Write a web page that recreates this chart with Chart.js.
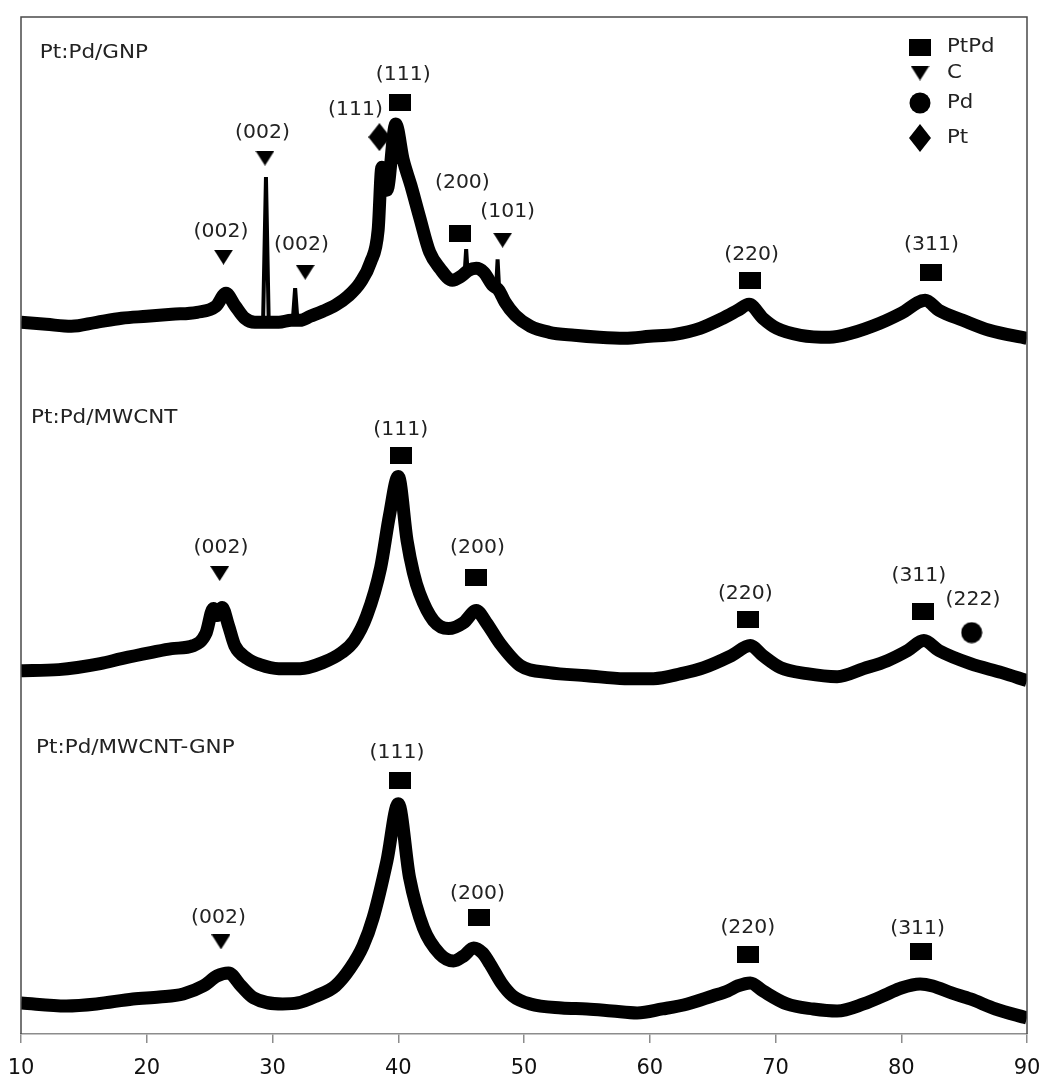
<!DOCTYPE html>
<html>
<head>
<meta charset="utf-8">
<script src="https://cdn.jsdelivr.net/npm/chart.js@4.4.1/dist/chart.umd.min.js"></script>
<style>
  html, body { margin: 0; background: #fff; }
</style>
</head>
<body>
<canvas id="xrd" width="1046" height="1079"></canvas>
<script>
// ---------- Diffraction data (2θ in degrees, stacked intensity in a.u.) ----------
const TICKS_2THETA = [10, 20, 30, 40, 50, 60, 70, 80, 90];

const gnpX = [10, 12, 14, 16, 18, 20, 22, 24, 25.5, 26.3, 27, 27.8, 28.6, 29.3, 29.7, 30.5, 31.5, 32.2, 33, 34, 35, 36, 37, 37.8, 38.4, 38.7, 39.1, 39.8, 40.4, 41, 41.7, 42.5, 43.3, 44.3, 45, 45.6, 46.2, 46.8, 47.5, 48, 48.5, 49.3, 50.5, 52, 54, 56, 58, 60, 62, 64, 65.8, 67, 67.9, 69, 70.1, 72, 74.3, 76, 78.3, 80, 81.9, 83, 84.9, 87, 90];
const gnpY = [711, 709, 707, 711, 715, 717, 719, 721, 727, 740, 728, 715, 711, 711, 711, 711, 713, 713, 717, 722, 728, 737, 751, 771, 803, 866, 843, 909, 873, 848, 816, 781, 765, 753, 757, 763, 765, 761, 748, 743, 731, 718, 707, 701, 698, 696, 695, 697, 699, 705, 715, 723, 729, 715, 705, 698, 696, 700, 710, 720, 733, 723, 713, 703, 695];

// narrow reflections on the GNP pattern (null separates each spike)
const gnpSpikeX = [29.25, 29.48, 29.7, null, 31.62, 31.8, 31.98, null, 45.28, 45.4, 45.52, null, 47.78, 47.9, 48.02];
const gnpSpikeY = [711, 856, 711, null, 714, 745, 714, null, 760, 784, 760, null, 745, 774, 745];

const mwcntX = [10, 13, 16.3, 18, 20.3, 22, 23.7, 24.7, 25.3, 25.6, 26, 26.5, 27, 28, 29, 30.5, 32.2, 34, 35.5, 36.5, 37.5, 38.6, 39.3, 40, 40.7, 41.2, 41.7, 42.8, 44, 45.2, 46.2, 47, 48.1, 49.7, 52, 55, 58, 60.3, 62.5, 64.3, 66.5, 68, 69, 70.4, 72.5, 74.9, 77, 78.9, 80.5, 81.8, 83, 85.5, 88, 90];
const mwcntY = [363, 364, 370, 375, 381, 385, 388, 400, 425, 418, 426, 408, 388, 375, 369, 365, 365, 371, 381, 393, 418, 466, 518, 557, 493, 461, 440, 413, 405, 411, 423, 411, 390, 368, 361, 358, 355, 355, 360, 366, 378, 388, 378, 366, 360, 357, 365, 373, 383, 393, 383, 370, 361, 353];

const hybridX = [10, 13.6, 16, 18.9, 21, 22.9, 24.5, 25.6, 26.5, 27.5, 28.5, 30.8, 32, 33.5, 35, 36.2, 37.2, 38, 39.1, 40, 40.9, 42, 43.3, 44.4, 45.2, 46, 46.7, 47.3, 48.2, 49.1, 50.5, 53, 55, 57, 59, 61, 63, 65, 66.2, 67, 68, 69, 70.9, 73, 74.9, 77, 78.9, 80, 81.5, 82.5, 84, 85.5, 87.5, 90];
const hybridY = [31, 28, 30, 35, 37, 40, 48, 58, 61, 48, 36, 30, 31, 38, 48, 66, 88, 116, 173, 230, 156, 106, 80, 73, 78, 86, 81, 70, 51, 38, 30, 26, 25, 23, 21, 25, 30, 38, 43, 48, 51, 43, 30, 25, 23, 30, 40, 46, 50, 48, 41, 35, 25, 16];

// ---------- Phase assignments: [2θ, marker height, hkl, label 2θ, label height] ----------
const ptpdPeaks = [
  [40.1, 931, '(111)', 40.4, 958], [44.9, 800, '(200)', 45.1, 850], [68.0, 753, '(220)', 68.1, 778], [82.4, 761, '(311)', 82.4, 788],
  [40.2, 578, '(111)', 40.2, 604], [46.2, 456, '(200)', 46.3, 486], [67.8, 414, '(220)', 67.6, 440], [81.7, 422, '(311)', 81.4, 458],
  [40.1, 253, '(111)', 39.9, 281], [46.4, 116, '(200)', 46.3, 140], [67.8, 79, '(220)', 67.8, 106], [81.6, 82, '(311)', 81.3, 105],
];
const carbonPeaks = [
  [26.1, 776, '(002)', 25.9, 801], [29.4, 875, '(002)', 29.2, 900], [32.6, 761, '(002)', 32.3, 788], [48.3, 793, '(101)', 48.7, 821],
  [25.8, 460, '(002)', 25.9, 486],
  [25.9, 92, '(002)', 25.7, 116],
];
const pdPeaks = [[85.6, 401, '(222)', 85.7, 434]];
const ptPeaks = [[38.5, 896, '(111)', 36.6, 923]];

const SAMPLES = ['Pt:Pd/GNP', 'Pt:Pd/MWCNT', 'Pt:Pd/MWCNT-GNP'];
const sampleLabelX = [11.5, 10.8, 11.2];
const sampleLabelY = [980, 615, 286];

const LEGEND = ['PtPd', 'C', 'Pd', 'Pt'];

// ---------- Marker glyphs ----------
function glyph(kind) {
  const c = document.createElement('canvas');
  const dims = { square: [22, 17], triangle: [19, 15], circle: [22, 22], diamond: [22, 28] }[kind];
  c.width = dims[0]; c.height = dims[1];
  const g = c.getContext('2d');
  const w = c.width, h = c.height;
  g.fillStyle = '#000';
  g.beginPath();
  if (kind === 'square') {
    g.rect(0, 0, w, h);
  } else if (kind === 'triangle') {
    g.moveTo(0, 0); g.lineTo(w, 0); g.lineTo(w / 2, h); g.closePath();
  } else if (kind === 'circle') {
    g.arc(w / 2, h / 2, w / 2 - 0.5, 0, Math.PI * 2);
  } else {
    g.moveTo(w / 2, 0); g.lineTo(w, h / 2); g.lineTo(w / 2, h); g.lineTo(0, h / 2); g.closePath();
  }
  g.fill();
  return c;
}
const GLYPHS = { PtPd: glyph('square'), C: glyph('triangle'), Pd: glyph('circle'), Pt: glyph('diamond') };

const zip = (xs, ys) => xs.map((x, i) => ({ x: x, y: x === null ? null : ys[i] }));

function traceSet(xs, ys) {
  return {
    type: 'scatter', showLine: true, data: zip(xs, ys),
    borderColor: '#000', borderWidth: 13, borderJoinStyle: 'round', borderCapStyle: 'butt',
    cubicInterpolationMode: 'monotone', pointRadius: 0, order: 2, clip: 0,
  };
}

function markerSet(peaks, kind) {
  return {
    type: 'scatter', data: peaks.map(p => ({ x: p[0], y: p[1] })),
    pointStyle: GLYPHS[kind], pointRadius: 10, order: 0, clip: false,
  };
}

const TEXT_COLOR = '#222';
function stretchedText(ctx, text, x, y, size, sx, align) {
  ctx.save();
  ctx.translate(x, y);
  ctx.scale(sx, 1);
  ctx.font = size + 'px "DejaVu Sans"';
  ctx.fillStyle = TEXT_COLOR;
  ctx.textAlign = align;
  ctx.textBaseline = 'middle';
  ctx.fillText(text, 0, 0);
  ctx.restore();
}

// frame, peak indices, sample names and legend
const decorations = {
  id: 'decorations',
  afterDatasetsDraw(chart) {
    const { ctx, chartArea: a, scales: { x, y } } = chart;

    ctx.save();
    ctx.strokeStyle = '#4a4a4a';
    ctx.lineWidth = 1.5;
    ctx.beginPath();
    ctx.moveTo(a.left, a.bottom); ctx.lineTo(a.left, a.top);
    ctx.lineTo(a.right, a.top); ctx.lineTo(a.right, a.bottom);
    ctx.stroke();
    ctx.restore();

    [ptpdPeaks, carbonPeaks, pdPeaks, ptPeaks].forEach(list => {
      list.forEach(p => {
        stretchedText(ctx, p[2], x.getPixelForValue(p[3]), y.getPixelForValue(p[4]), 20, 1.02, 'center');
      });
    });

    SAMPLES.forEach((name, i) => {
      stretchedText(ctx, name, x.getPixelForValue(sampleLabelX[i]), y.getPixelForValue(sampleLabelY[i]), 19, 1.13, 'left');
    });

    const rows = [30, 56, 86, 121];
    LEGEND.forEach((name, i) => {
      const img = GLYPHS[name];
      const cy = a.top + rows[i];
      ctx.drawImage(img, a.right - 107 - img.width / 2, cy - img.height / 2);
      stretchedText(ctx, name, a.right - 80, cy, 19, 1.12, 'left');
    });
  }
};

new Chart(document.getElementById('xrd'), {
  data: {
    datasets: [
      markerSet(ptpdPeaks, 'PtPd'),
      markerSet(carbonPeaks, 'C'),
      markerSet(pdPeaks, 'Pd'),
      markerSet(ptPeaks, 'Pt'),
      { type: 'scatter', showLine: true, data: zip(gnpSpikeX, gnpSpikeY), borderColor: '#000', borderWidth: 4,
        pointRadius: 0, spanGaps: false, order: 1, clip: 0 },
      traceSet(gnpX, gnpY),
      traceSet(mwcntX, mwcntY),
      traceSet(hybridX, hybridY),
    ]
  },
  options: {
    responsive: false,
    devicePixelRatio: 1,
    animation: false,
    layout: { padding: { left: 21, right: 19, top: 17, bottom: 0 } },
    plugins: { legend: { display: false }, tooltip: { enabled: false } },
    scales: {
      x: {
        type: 'linear', min: 10, max: 90,
        afterBuildTicks: s => { s.ticks = TICKS_2THETA.map(v => ({ value: v })); },
        // keep the plot box edge-to-edge at 10° and 90°, fixed axis band height
        afterFit: s => { s.paddingLeft = 0; s.paddingRight = 0; s.height = 45; },
        grid: { drawOnChartArea: false, drawTicks: true, tickLength: 9, color: '#8c8c8c', lineWidth: 1.5 },
        border: { color: '#8c8c8c', width: 1.5 },
        ticks: { padding: 13, color: '#111', autoSkip: false, maxRotation: 0, font: { family: 'DejaVu Sans', size: 21 } },
      },
      y: { type: 'linear', display: false, min: 0, max: 1016 },
    }
  },
  plugins: [decorations],
});
</script>
</body>
</html>
